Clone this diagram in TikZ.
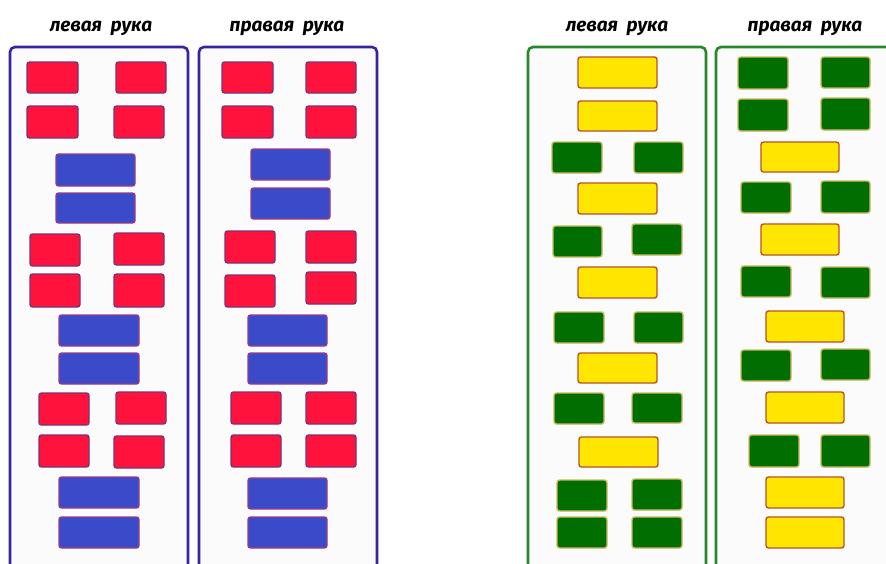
\documentclass[tikz,border=0pt]{standalone}
\usepackage{fontspec}
\setmainfont{Fira Sans}
\definecolor{violetB}{RGB}{58,34,160}
\definecolor{greenB}{RGB}{40,135,40}
\definecolor{panelbg}{RGB}{251,251,251}
\definecolor{redF}{RGB}{255,18,60}
\definecolor{redD}{RGB}{125,50,115}
\definecolor{blueF}{RGB}{58,74,200}
\definecolor{blueD}{RGB}{150,60,140}
\definecolor{greenF}{RGB}{0,110,0}
\definecolor{greenD}{RGB}{205,185,95}
\definecolor{yelF}{RGB}{255,230,0}
\definecolor{yelD}{RGB}{180,85,40}
\begin{document}
\begin{tikzpicture}[x=1pt,y=-1pt,
  panelV/.style={draw=violetB,line width=2.6pt,fill=panelbg,rounded corners=5pt},
  panelG/.style={draw=greenB,line width=2.6pt,fill=panelbg,rounded corners=5pt},
  brick/.style={line width=1.4pt,rounded corners=2.5pt},
  redbox/.style={brick,draw=redD,fill=redF},
  bluebox/.style={brick,draw=blueD,fill=blueF},
  greenbox/.style={brick,draw=greenD,fill=greenF},
  yelbox/.style={brick,draw=yelD,fill=yelF},
  head/.style={font=\fontsize{19}{21}\selectfont\bfseries\itshape,text=black,anchor=base}]
\useasboundingbox (0,0) rectangle (886,563);
\fill[white] (0,0) rectangle (886,563);
\clip (0,0) rectangle (886,563);
% headers
\node[head] (h1) at (101,31) {левая\ \ рука};
\node[head] (h2) at (287,31) {правая\ \ рука};
\node[head] (h3) at (617,31) {левая\ \ рука};
\node[head] (h4) at (805,31) {правая\ \ рука};
% panels
\draw[panelV] (10,47) rectangle (188,575);
\draw[panelV] (199,47) rectangle (377,575);
\draw[panelG] (528,47) rectangle (706,575);
\draw[panelG] (716,47) rectangle (900,575);
% panel 1
\foreach \a/\b/\c/\d in {27/62/78/93,116/62/166/93,27/106/78/138,114/106/164/138,30/234/80/266,114/233/164/265,30/274/80/307,114/274/164/307,39/393/89/425,116/392/166/424,39/435/89/467,114/436/164/468}
  \draw[redbox] (\a,\b) rectangle (\c,\d);
\foreach \a/\b/\c/\d in {56/154/135/186,56/193/135/223,59/315/139/346,59/353/139/384,59/477/139/508,59/517/139/548}
  \draw[bluebox] (\a,\b) rectangle (\c,\d);
% panel 2
\foreach \a/\b/\c/\d in {222/62/273/93,306/62/356/93,222/106/273/138,306/106/356/138,225/231/275/263,306/231/356/263,225/275/275/307,306/272/356/304,231/392/281/424,306/392/356/424,231/435/281/467,306/435/356/467}
  \draw[redbox] (\a,\b) rectangle (\c,\d);
\foreach \a/\b/\c/\d in {251/149/330/180,251/188/330/219,248/315/327/346,248/353/327/384,248/478/327/509,248/517/327/548}
  \draw[bluebox] (\a,\b) rectangle (\c,\d);
% panel 3
\foreach \a/\b/\c/\d in {578/57/657/88,578/101/657/131,578/183/657/214,578/267/657/298,578/353/657/383,579/437/658/467}
  \draw[yelbox] (\a,\b) rectangle (\c,\d);
\foreach \a/\b/\c/\d in {552/142/602/173,634/142/683/173,553/226/602/257,632/224/682/255,554/312/604/343,634/312/683/343,554/393/604/424,632/393/682/423,557/480/607/511,632/479/682/510,557/517/607/548,632/517/682/548}
  \draw[greenbox] (\a,\b) rectangle (\c,\d);
% panel 4
\foreach \a/\b/\c/\d in {738/57/788/89,821/57/870/88,738/99/788/131,821/98/870/130,741/182/791/213,821/181/870/213,741/266/791/297,821/267/870/298,741/350/791/381,821/349/870/380,749/435/799/467,821/435/870/467}
  \draw[greenbox] (\a,\b) rectangle (\c,\d);
\foreach \a/\b/\c/\d in {761/142/839/172,761/224/839/255,766/311/844/342,766/392/844/423,766/477/844/508,766/517/844/548}
  \draw[yelbox] (\a,\b) rectangle (\c,\d);
\end{tikzpicture}
\end{document}
